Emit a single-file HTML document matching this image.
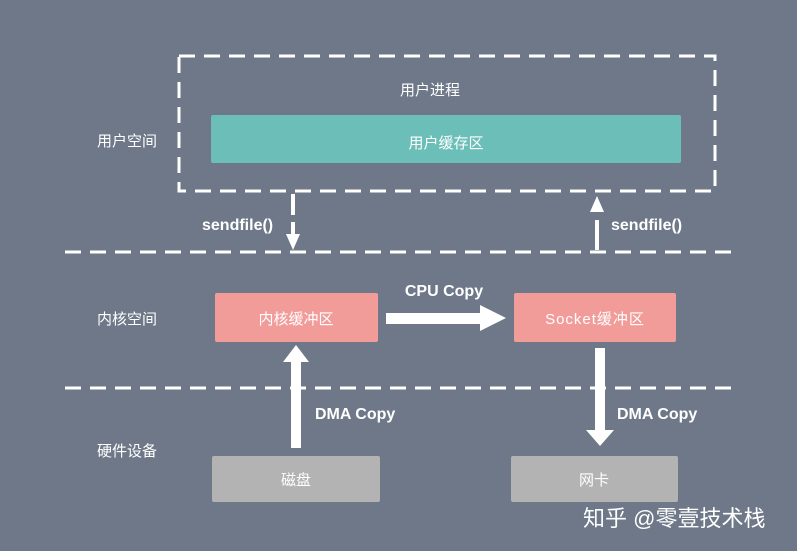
<!DOCTYPE html>
<html><head><meta charset="utf-8"><style>
html,body{margin:0;padding:0;background:#6e7888;}
svg{display:block}
text{font-family:"Liberation Sans","Noto Sans CJK SC",sans-serif;fill:#fff;}
</style></head><body>
<svg width="797" height="551" viewBox="0 0 797 551" xmlns="http://www.w3.org/2000/svg">
<rect width="797" height="551" fill="#6e7888"/>
<g stroke="#fff" stroke-width="3" fill="none" stroke-dasharray="16 9">
<rect x="179" y="56" width="536" height="135"/>
<line x1="65" y1="252" x2="735" y2="252"/>
<line x1="65" y1="388" x2="735" y2="388"/>
</g>
<text x="430" y="95" font-size="15" text-anchor="middle">用户进程</text>
<rect x="211" y="115" width="470" height="48" rx="2" fill="#6bbfb8"/>
<text x="446" y="148" font-size="15" text-anchor="middle">用户缓存区</text>
<text x="97" y="146" font-size="15">用户空间</text>
<text x="97" y="324" font-size="15">内核空间</text>
<text x="97" y="456" font-size="15">硬件设备</text>
<g stroke="#fff" stroke-width="4">
<line x1="293" y1="194" x2="293" y2="215"/>
<line x1="293" y1="222" x2="293" y2="236"/>
<line x1="597" y1="220" x2="597" y2="250"/>
</g>
<polygon points="286,234 300,234 293,250" fill="#fff"/>
<polygon points="590,212 604,212 597,196" fill="#fff"/>
<text x="202" y="230" font-size="16" font-weight="bold">sendfile()</text>
<text x="611" y="230" font-size="16" font-weight="bold">sendfile()</text>
<rect x="215" y="293" width="163" height="49" rx="2" fill="#f29c9a"/>
<rect x="514" y="293" width="162" height="49" rx="2" fill="#f29c9a"/>
<text x="296" y="324" font-size="15" text-anchor="middle">内核缓冲区</text>
<text x="595" y="324" font-size="15" text-anchor="middle" letter-spacing="1">Socket缓冲区</text>
<rect x="386" y="313" width="96" height="11" fill="#fff"/>
<polygon points="480,305 506,318 480,331" fill="#fff"/>
<text x="444" y="296" font-size="16" font-weight="bold" text-anchor="middle">CPU Copy</text>
<rect x="291" y="360" width="10" height="88" fill="#fff"/>
<polygon points="283,362 296,345 309,362" fill="#fff"/>
<text x="315" y="419" font-size="16" font-weight="bold">DMA Copy</text>
<rect x="595" y="348" width="10" height="84" fill="#fff"/>
<polygon points="586,430 614,430 600,446" fill="#fff"/>
<text x="617" y="419" font-size="16" font-weight="bold">DMA Copy</text>
<rect x="212" y="456" width="168" height="46" rx="2" fill="#b3b3b3"/>
<rect x="511" y="456" width="167" height="46" rx="2" fill="#b3b3b3"/>
<text x="296" y="485" font-size="15" text-anchor="middle">磁盘</text>
<text x="594" y="485" font-size="15" text-anchor="middle">网卡</text>
<text x="583" y="526" font-size="22">知乎 @零壹技术栈</text>
</svg>
</body></html>
